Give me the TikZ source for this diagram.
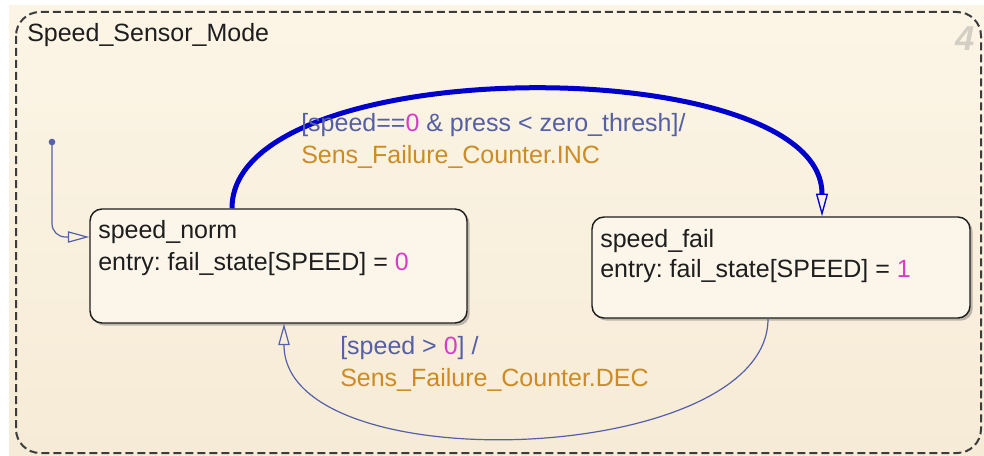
\documentclass[tikz,border=0pt]{standalone}
\usepackage{fontspec}
\setmainfont{Liberation Sans}
\usetikzlibrary{arrows.meta,shadows}
\definecolor{bgcream}{RGB}{252,245,230}
\definecolor{bgbot}{RGB}{246,235,214}
\definecolor{statefill}{RGB}{252,246,234}
\definecolor{textdark}{RGB}{30,30,30}
\definecolor{condblue}{RGB}{85,95,165}
\definecolor{numpink}{RGB}{215,60,200}
\definecolor{actorange}{RGB}{205,140,35}
\definecolor{trblue}{RGB}{0,0,205}
\definecolor{thinblue}{RGB}{85,95,170}
\definecolor{bordergray}{RGB}{60,60,60}
\definecolor{numgray}{RGB}{212,207,196}
\tikzset{
  statebox/.style={draw=textdark, line width=1.1pt, fill=statefill, rounded corners=9pt,
    inner sep=0pt, drop shadow={shadow xshift=2pt, shadow yshift=-2pt, opacity=0.35, fill=black!70}},
  txt/.style={anchor=base west, inner sep=0pt},
  thintr/.style={thinblue, line width=0.9pt},
  opentip/.style={-{Triangle[open, length=16pt, width=8.5pt, line width=0.9pt]}}
}
\frenchspacing
\begin{document}
\begin{tikzpicture}[x=0.75pt,y=-0.75pt, font=\fontsize{18.75}{22}\selectfont]
\useasboundingbox (0,0) rectangle (984,456);
\fill[white] (0,0) rectangle (984,456);
\shade[top color=bgcream,bottom color=bgbot] (9,6) rectangle (984,456);
\draw[bordergray, line width=1.5pt, dash pattern=on 6pt off 3pt, rounded corners=18pt] (16,12) rectangle (981,453);

\node[txt, text=textdark] (title) at (27,42) {Speed\_Sensor\_Mode};
\node[txt, text=numgray, font=\fontsize{26}{26}\selectfont\bfseries\itshape] (num) at (955,51) {4};

% states
\node[statebox, minimum width=282.75pt, minimum height=85.5pt] (norm) at (278.5,266) {};
\node[statebox, minimum width=283.5pt, minimum height=75.75pt] (fail) at (781,267.5) {};

\node[txt, text=textdark] (normname) at (98,238) {speed\_norm};
\node[txt, text=textdark] (normentry) at (98,270) {entry: fail\_state[SPEED] = \textcolor{numpink}{0}};
\node[txt, text=textdark] (failname) at (600,247) {speed\_fail};
\node[txt, text=textdark] (failentry) at (600,277) {entry: fail\_state[SPEED] = \textcolor{numpink}{1}};

% default transition
\node[circle, fill=thinblue, inner sep=0pt, minimum size=5pt] (init) at (52,142) {};
\draw[thintr, opentip, rounded corners=10pt] (init.center) |- ([yshift=21.75pt]norm.west);

% thick transition
\draw[trblue, line width=3.75pt, -{Triangle[open, length=17pt, width=9pt, line width=1pt]}]
  ([xshift=-34.875pt]norm.north) .. controls (232,50) and (822,50) .. ([xshift=30.75pt]fail.north);

% return transition
\draw[thintr, opentip]
  ([xshift=-9.75pt]fail.south) .. controls (768,466) and (284,484) .. ([xshift=4.125pt]norm.south);

% labels
\node[txt, text=condblue] (inclbl1) at (301,132) {[speed==\textcolor{numpink}{0} \& press < zero\_thresh]/};
\node[txt, text=actorange] (inclbl2) at (301,163) {Sens\_Failure\_Counter.INC};
\node[txt, text=condblue] (declbl1) at (340,354) {[speed > \textcolor{numpink}{0}] /};
\node[txt, text=actorange] (declbl2) at (340,386) {Sens\_Failure\_Counter.DEC};
\end{tikzpicture}
\end{document}
